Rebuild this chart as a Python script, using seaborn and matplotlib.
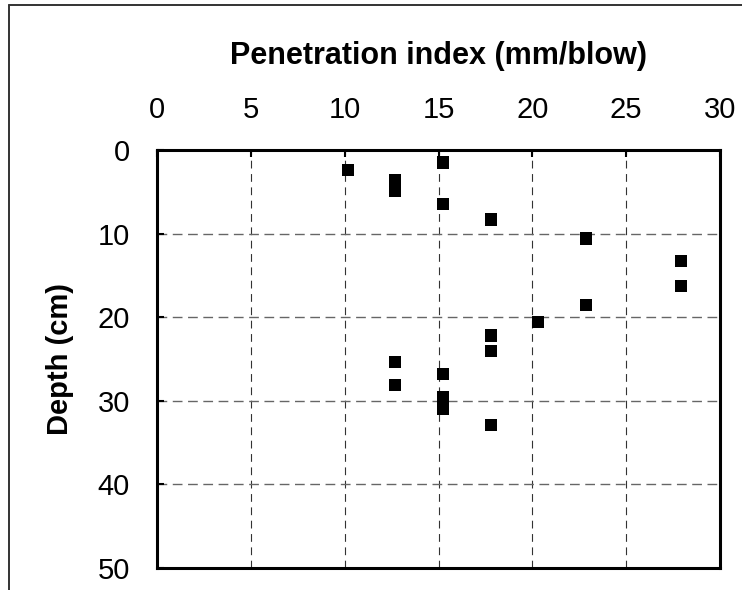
import matplotlib
matplotlib.use("Agg")
import matplotlib.pyplot as plt
import seaborn as sns
import pandas as pd
from matplotlib.lines import Line2D

# Penetration index readings (mm/blow) against depth (cm)
penetration_index = [15.24, 10.16, 12.70, 12.70, 15.24, 17.78, 22.86, 27.94, 27.94,
                     22.86, 20.32, 17.78, 17.78, 12.70, 15.24, 12.70, 15.24, 15.24, 17.78]
depth_cm = [1.5, 2.4, 3.6, 4.9, 6.5, 8.3, 10.6, 13.3, 16.3,
            18.5, 20.6, 22.2, 24.0, 25.4, 26.8, 28.1, 29.6, 31.0, 32.9]

x_ticks = [0, 5, 10, 15, 20, 25, 30]
y_ticks = [0, 10, 20, 30, 40, 50]

sns.set_theme(style="white")
plt.rcParams["font.family"] = ["Liberation Sans", "DejaVu Sans"]

df = pd.DataFrame({"pi": penetration_index, "depth": depth_cm})

W, H = 742, 590
fig = plt.figure(figsize=(W / 100, H / 100), dpi=100)
left, right, top, bottom = 157, 720, 150, 568
ax = fig.add_axes([left / W, 1 - bottom / H, (right - left) / W, (bottom - top) / H])

# Dashed grid behind the points: darker verticals, grey horizontals
ax.set_axisbelow(True)
ax.grid(True, which="major", axis="x", color="#333333", linestyle=(0, (7, 5)),
        linewidth=0.8)
ax.grid(True, which="major", axis="y", color="#666666", linestyle=(0, (7, 4)),
        linewidth=1.0)

sns.scatterplot(data=df, x="pi", y="depth", marker="s", s=78, color="black",
                edgecolor="none", linewidth=0, ax=ax, zorder=3, legend=False)

ax.set_xlim(0, 30)
ax.set_ylim(50, 0)
ax.set_xticks(x_ticks)
ax.set_yticks(y_ticks)
ax.set_xticklabels([str(t) for t in x_ticks])
ax.set_yticklabels([str(t) for t in y_ticks])

# Horizontal axis sits on top of the frame
ax.xaxis.set_ticks_position("top")
ax.xaxis.set_label_position("top")
ax.tick_params(axis="x", which="both", top=True, bottom=False, labeltop=True,
               labelbottom=False, direction="in", length=5, width=1.5,
               color="black", labelsize=21, pad=19, labelcolor="black")
ax.tick_params(axis="y", which="both", left=True, direction="in", length=5,
               width=1.5, color="black", labelsize=21, pad=19.5, labelcolor="black")

for side in ("top", "bottom", "left", "right"):
    ax.spines[side].set_visible(True)
    ax.spines[side].set_color("black")
    ax.spines[side].set_linewidth(2.2)

ax.set_xlabel("Penetration index (mm/blow)", fontsize=22, fontweight="bold",
              color="black")
ax.xaxis.label.set_verticalalignment("baseline")
ax.xaxis.set_label_coords(0.5, (bottom - 64) / (bottom - top), transform=ax.transAxes)

ax.set_ylabel("Depth (cm)", fontsize=21, fontweight="bold", color="black")
ax.yaxis.label.set_rotation_mode("anchor")
ax.yaxis.label.set_horizontalalignment("center")
ax.yaxis.label.set_verticalalignment("baseline")
ax.yaxis.set_label_coords(-(left - 68) / (right - left), 0.5, transform=ax.transAxes)

# Outer chart frame (top and left edges)
fig.add_artist(Line2D([9 / W, 9 / W], [0, 1 - 5 / H], transform=fig.transFigure,
                      color="#333333", linewidth=1.4))
fig.add_artist(Line2D([9 / W, 1], [1 - 5 / H, 1 - 5 / H],
                      transform=fig.transFigure, color="#333333", linewidth=1.4))

fig.savefig("out.png", dpi=100)
